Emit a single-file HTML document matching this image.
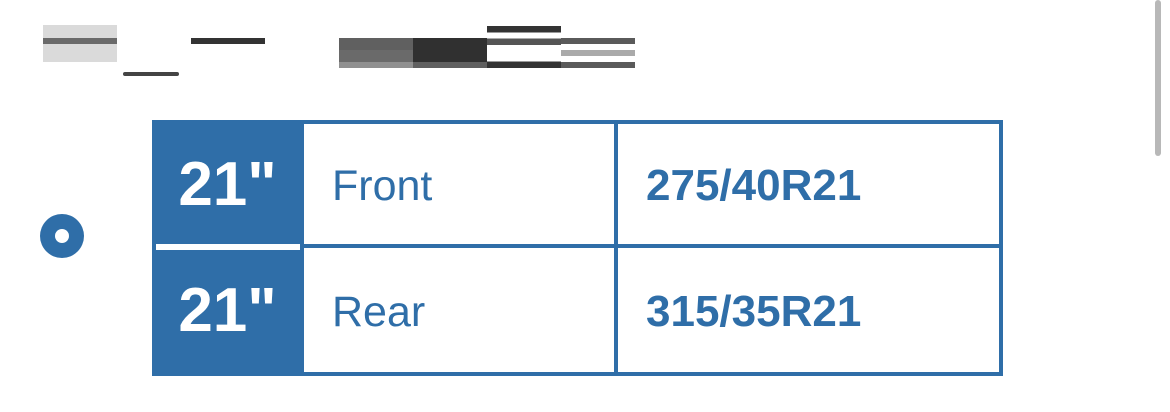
<!DOCTYPE html>
<html><head><meta charset="utf-8"><style>
body{margin:0;width:1170px;height:412px;background:#fff;position:relative;overflow:hidden;font-family:"Liberation Sans",Arial,sans-serif}
div{position:absolute;box-sizing:border-box}
.c{color:#2f6ea8}
</style></head><body>
<div style="left:43px;top:25px;width:74px;height:37px;background:#dadada"></div>
<div style="left:43px;top:38px;width:74px;height:6px;background:#6a6a6a"></div>
<div style="left:191px;top:38px;width:74px;height:6px;background:#333"></div>
<div style="left:123px;top:72px;width:56px;height:4px;background:#444;border-radius:2px"></div>
<div style="left:339px;top:38px;width:74px;height:30px;background:linear-gradient(#606060 40%,#6a6a6a 40% 80%,#909090 80%)"></div>
<div style="left:413px;top:38px;width:74px;height:30px;background:linear-gradient(#303030 80%,#606060 80%)"></div>
<div style="left:487px;top:26px;width:74px;height:42px;background:linear-gradient(#333 0 15%,#fff 15% 30%,#555 30% 45%,#fff 45% 85%,#333 85%)"></div>
<div style="left:561px;top:38px;width:74px;height:30px;background:linear-gradient(#5a5a5a 0 20%,#fff 20% 40%,#aaa 40% 60%,#fff 60% 80%,#5a5a5a 80%)"></div>
<div style="left:1155px;top:0;width:6px;height:156px;background:#b8b8b8;border-radius:3px"></div>

<div style="left:40px;top:214px;width:44px;height:44px;border-radius:50%;background:#2f6ea8"><div style="left:15px;top:15px;width:14px;height:14px;border-radius:50%;background:#fff"></div></div>

<div style="left:152px;top:120px;width:851px;height:256px;border:4px solid #2f6ea8;background:#fff"></div>
<div style="left:152px;top:120px;width:151px;height:124px;background:#2f6ea8"></div>
<div style="left:152px;top:250px;width:151px;height:126px;background:#2f6ea8"></div>
<div style="left:303px;top:244px;width:700px;height:4px;background:#2f6ea8"></div>
<div style="left:300px;top:120px;width:4px;height:256px;background:#2f6ea8"></div>
<div style="left:614px;top:120px;width:4px;height:256px;background:#2f6ea8"></div>

<div style="left:152px;top:150px;width:151px;text-align:center;color:#fff;font-weight:bold;font-size:62px;line-height:70px">21"</div>
<div style="left:152px;top:276px;width:151px;text-align:center;color:#fff;font-weight:bold;font-size:62px;line-height:70px">21"</div>
<div class="c" style="left:332px;top:161px;font-size:43px;line-height:50px">Front</div>
<div class="c" style="left:332px;top:287px;font-size:43px;line-height:50px">Rear</div>
<div class="c" style="left:646px;top:161px;font-size:44px;font-weight:bold;line-height:50px">275/40R21</div>
<div class="c" style="left:646px;top:287px;font-size:44px;font-weight:bold;line-height:50px">315/35R21</div>
</body></html>
